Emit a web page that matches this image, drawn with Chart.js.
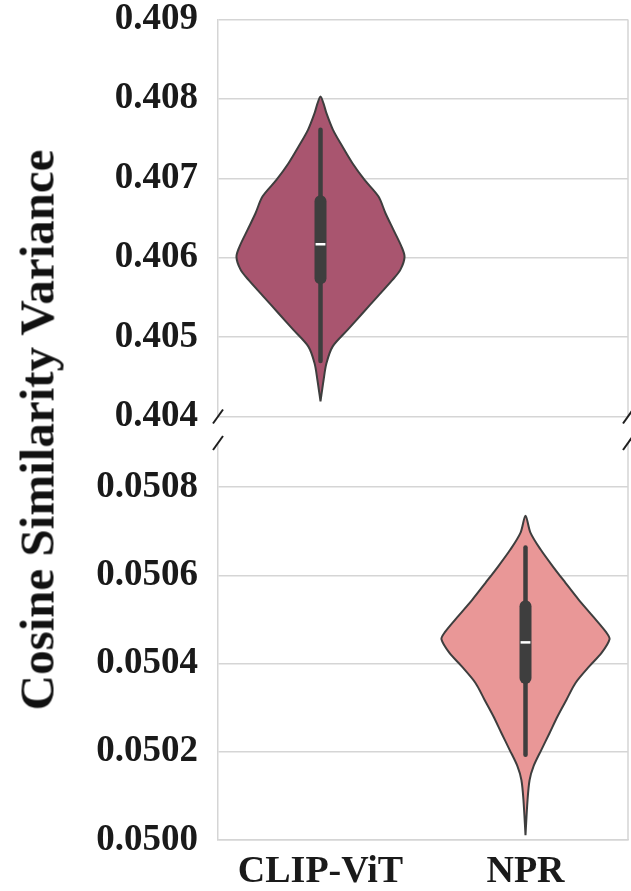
<!DOCTYPE html>
<html>
<head>
<meta charset="utf-8">
<script src="https://cdn.jsdelivr.net/npm/chart.js@4/dist/chart.umd.min.js"></script>
<style>
  html, body { margin: 0; padding: 0; background: #ffffff; }
  #wrap { position: relative; width: 631px; height: 891px; overflow: hidden; background: #fff; }
  canvas { position: absolute; left: 0; }
  #topCanvas { top: 0; }
  #botCanvas { top: 430px; }
  #ytitle {
    position: absolute; left: 36.5px; top: 430px;
    transform: translate(-50%, -50%) rotate(-90deg);
    white-space: nowrap; font-family: 'Liberation Serif', 'Times New Roman', serif;
    font-weight: bold; font-size: 49px; line-height: 1; color: #111;
  }
</style>
</head>
<body>
<div id="wrap">
  <canvas id="topCanvas" width="631" height="430"></canvas>
  <canvas id="botCanvas" width="631" height="461"></canvas>
  <div id="ytitle">Cosine Similarity Variance</div>
</div>
<script>
// ---------------- data ----------------
const categories = ['CLIP-ViT', 'NPR'];
const yTitle = 'Cosine Similarity Variance';

const topTicks = [0.404, 0.405, 0.406, 0.407, 0.408, 0.409];
const topTickLabels = ['0.404', '0.405', '0.406', '0.407', '0.408', '0.409'];
const bottomTicks = [0.0500, 0.0502, 0.0504, 0.0506, 0.0508];
const bottomTickLabels = ['0.0500', '0.0502', '0.0504', '0.0506', '0.0508'];

// CLIP-ViT violin: value levels (top to bottom) and half-widths (fraction of a category slot)
const clipLevels = [0.40803, 0.40794, 0.40782, 0.40761, 0.40740, 0.40719, 0.40698, 0.40677, 0.40656, 0.40635,
                    0.40614, 0.40601, 0.40585, 0.40572, 0.40551, 0.40530, 0.40509, 0.40488, 0.40467, 0.40446, 0.40419];
const clipHalfWidths = [0, 0.015, 0.029, 0.061, 0.107, 0.156, 0.215, 0.283, 0.317, 0.356,
                        0.395, 0.410, 0.390, 0.351, 0.278, 0.205, 0.132, 0.059, 0.029, 0.015, 0];
// [lower whisker, Q1, median, Q3, upper whisker]
const clipBox = [0.40470, 0.40574, 0.40617, 0.40671, 0.40761];

// NPR violin
const nprLevels = [0.050735, 0.050697, 0.050659, 0.050621, 0.050583, 0.050545, 0.050508, 0.050470, 0.050455, 0.050424,
                   0.050394, 0.050356, 0.050318, 0.050280, 0.050242, 0.050205, 0.050167, 0.050136, 0.050091, 0.050011];
const nprHalfWidths = [0, 0.024, 0.073, 0.132, 0.195, 0.259, 0.327, 0.395, 0.410, 0.371,
                       0.312, 0.244, 0.200, 0.156, 0.117, 0.078, 0.039, 0.020, 0.010, 0];
const nprBox = [0.050193, 0.050367, 0.050448, 0.050530, 0.050663];

// ---------------- styling ----------------
const FONT = "'Liberation Serif', 'Times New Roman', serif";
const GRID = '#d5d5d5';
const EDGE = '#3e3e3e';
const clipColor = '#a9556f';
const nprColor = '#e99797';

function outlinePoints(center, levels, halfWidths) {
  const pts = [];
  const n = levels.length;
  for (let i = n - 1; i >= 0; i--) pts.push({ x: center + halfWidths[i], y: levels[i] });
  for (let i = 1; i < n; i++) pts.push({ x: center - halfWidths[i], y: levels[i] });
  return pts;
}

function violinDatasets(center, levels, halfWidths, box, fillColor) {
  return [
    { label: categories[center], data: outlinePoints(center, levels, halfWidths), violinFill: fillColor,
      borderColor: EDGE, borderWidth: 2, tension: 0.3, pointRadius: 0, fill: false, order: 10 },
    { label: 'whisker', data: [{ x: center, y: box[0] }, { x: center, y: box[4] }],
      borderColor: EDGE, borderWidth: 4.5, pointRadius: 0, fill: false, borderCapStyle: 'round', order: 3 },
    { label: 'box', data: [{ x: center, y: box[1] }, { x: center, y: box[3] }],
      borderColor: EDGE, borderWidth: 12, pointRadius: 0, fill: false, borderCapStyle: 'round', order: 2 },
    { label: 'median', data: [{ x: center - 0.024, y: box[2] }, { x: center + 0.024, y: box[2] }],
      borderColor: '#ffffff', borderWidth: 2.5, pointRadius: 0, fill: false, order: 1 }
  ];
}

const violinFillPlugin = {
  id: 'violinFill',
  beforeDatasetDraw(chart, args) {
    const ds = chart.data.datasets[args.index];
    if (!ds.violinFill) return;
    const meta = args.meta;
    const line = meta.dataset;
    const ctx = chart.ctx;
    const area = chart.chartArea;
    ctx.save();
    ctx.beginPath();
    ctx.rect(area.left, area.top, area.width, area.height);
    ctx.clip();
    ctx.beginPath();
    let ok = false;
    try {
      line.updateControlPoints(area, 'x');
      line.path(ctx);
      ok = true;
    } catch (e) { ok = false; }
    if (!ok) {
      ctx.beginPath();
      meta.data.forEach((p, i) => { if (i === 0) ctx.moveTo(p.x, p.y); else ctx.lineTo(p.x, p.y); });
    }
    ctx.closePath();
    ctx.fillStyle = ds.violinFill;
    ctx.fill();
    ctx.restore();
  }
};

function framePlugin(breakAt) {
  return {
    id: 'frame',
    beforeDatasetsDraw(chart) {
      const ctx = chart.ctx, a = chart.chartArea;
      ctx.save();
      ctx.strokeStyle = GRID; ctx.lineWidth = 1.5;
      ctx.beginPath(); ctx.moveTo(a.right, a.top); ctx.lineTo(a.right, a.bottom); ctx.stroke();
      ctx.restore();
    },
    afterDraw(chart) {
      const ctx = chart.ctx, a = chart.chartArea;
      const y = breakAt === 'bottom' ? a.bottom : a.top;
      ctx.save();
      ctx.strokeStyle = '#1e1e1e'; ctx.lineWidth = 2;
      [a.left, a.right].forEach(x => {
        ctx.beginPath(); ctx.moveTo(x - 5, y + 7); ctx.lineTo(x + 5, y - 7); ctx.stroke();
      });
      ctx.restore();
    }
  };
}

function yScale(min, max, ticks, labels) {
  return {
    type: 'linear', min: min, max: max,
    afterBuildTicks: s => { s.ticks = ticks.map(v => ({ value: v })); },
    afterFit: s => { s.width = 218; s.paddingTop = 0; s.paddingBottom = 0; },
    ticks: {
      font: { family: FONT, weight: 'bold', size: 37 }, color: '#1a1a1a', padding: 20,
      callback: (v, i) => labels[i]
    },
    grid: { color: GRID, lineWidth: 1.5, drawTicks: false },
    border: { display: true, color: GRID, width: 1.5 }
  };
}

Chart.defaults.animation = false;

new Chart(document.getElementById('topCanvas'), {
  type: 'line',
  data: { datasets: violinDatasets(0, clipLevels, clipHalfWidths, clipBox, clipColor) },
  options: {
    responsive: false, devicePixelRatio: 1, animation: false,
    layout: { padding: { top: 19.5, right: 3, bottom: 13.5, left: 0 }, autoPadding: false },
    plugins: { legend: { display: false }, tooltip: { enabled: false } },
    scales: {
      x: { type: 'linear', min: -0.5, max: 1.5, display: false },
      y: yScale(0.404, 0.409, topTicks, topTickLabels)
    }
  },
  plugins: [violinFillPlugin, framePlugin('bottom')]
});

new Chart(document.getElementById('botCanvas'), {
  type: 'line',
  data: { datasets: violinDatasets(1, nprLevels, nprHalfWidths, nprBox, nprColor) },
  options: {
    responsive: false, devicePixelRatio: 1, animation: false,
    layout: { padding: { top: 13, right: 3, bottom: 0, left: 0 }, autoPadding: false },
    plugins: { legend: { display: false }, tooltip: { enabled: false } },
    scales: {
      x: {
        type: 'linear', min: -0.5, max: 1.5,
        afterBuildTicks: s => { s.ticks = categories.map((c, i) => ({ value: i })); },
        afterFit: s => { s.height = 51; s.paddingLeft = 0; s.paddingRight = 0; },
        ticks: {
          font: { family: FONT, weight: 'bold', size: 38 }, color: '#1a1a1a', padding: 9,
          autoSkip: false, maxRotation: 0,
          callback: (v) => categories[Math.round(v)]
        },
        grid: { display: false, drawTicks: false },
        border: { display: true, color: GRID, width: 1.5 }
      },
      y: yScale(0.0500, 0.0509, bottomTicks, bottomTickLabels)
    }
  },
  plugins: [violinFillPlugin, framePlugin('top')]
});
</script>
</body>
</html>
